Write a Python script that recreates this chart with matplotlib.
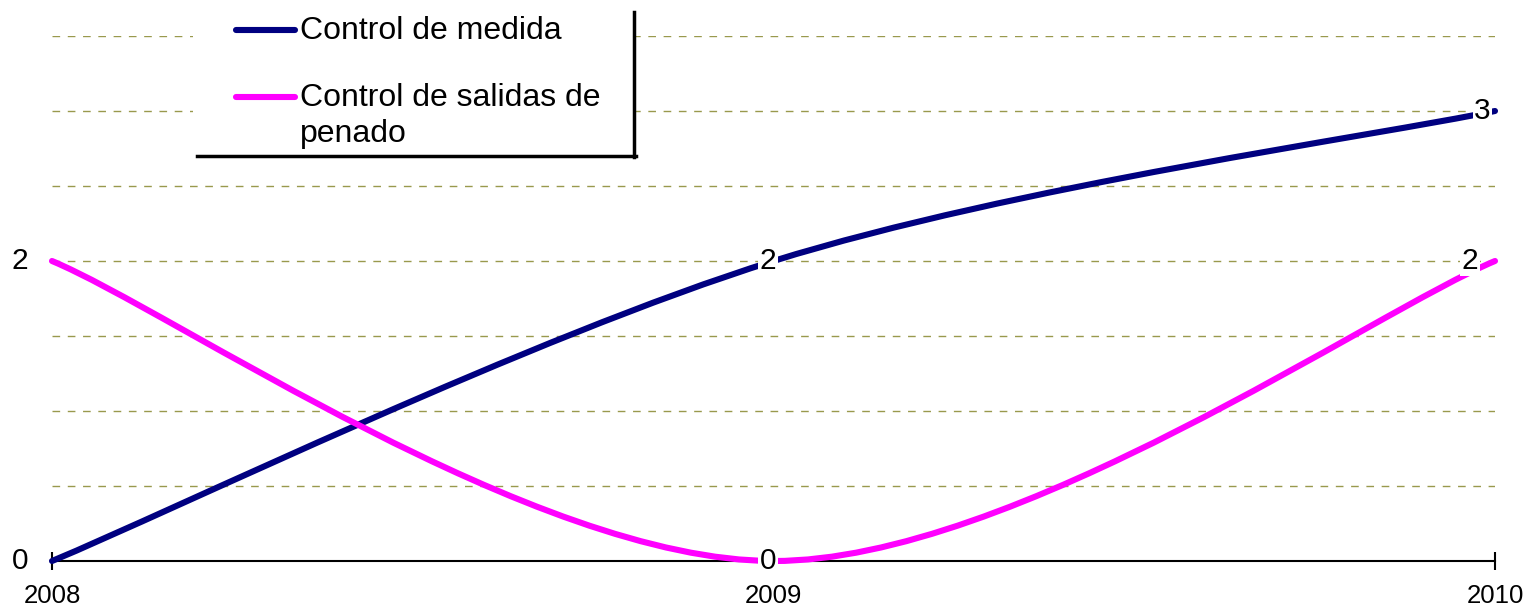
import matplotlib
matplotlib.use('Agg')
import matplotlib.pyplot as plt
from matplotlib.path import Path
from matplotlib.patches import PathPatch, Rectangle
from matplotlib.lines import Line2D

plt.rcParams['font.family'] = ['Liberation Sans', 'DejaVu Sans']

years = [2008, 2009, 2010]
medida = [0, 2, 3]
salidas = [2, 0, 2]
series_names = ['Control de medida', 'Control de salidas de\npenado']
colors = ['#000080', '#ff00ff']

W, H = 1525, 610


def smooth_path(x, y):
    # bezier smoothing like the spreadsheet's "smoothed line"
    verts = [(x[0], y[0])]
    codes = [Path.MOVETO]
    n = len(x)
    for i in range(n - 1):
        xp, yp = (x[i - 1], y[i - 1]) if i > 0 else (x[i], y[i])
        xn, yn = (x[i + 2], y[i + 2]) if i + 2 < n else (x[i + 1], y[i + 1])
        c1 = (x[i] + (x[i + 1] - xp) / 6, y[i] + (y[i + 1] - yp) / 6)
        c2 = (x[i + 1] - (xn - x[i]) / 6, y[i + 1] - (yn - y[i]) / 6)
        verts += [c1, c2, (x[i + 1], y[i + 1])]
        codes += [Path.CURVE4] * 3
    return Path(verts, codes)


fig = plt.figure(figsize=(W / 100, H / 100), dpi=100)
ax = fig.add_axes([52 / W, 1 - 561 / H, (1495 - 52) / W, (561 - 36) / H])
ax.set_xlim(2008, 2010)
ax.set_ylim(0, 3.5)

ax.set_yticks([0.5, 1, 1.5, 2, 2.5, 3, 3.5])
ax.yaxis.grid(True, color='#99994d', linewidth=1, linestyle=(0, (5.5, 5.5)))
ax.tick_params(axis='y', left=False, labelleft=False)
for s in ['left', 'right', 'top']:
    ax.spines[s].set_visible(False)
ax.spines['bottom'].set_linewidth(1.5)
ax.set_xticks(years)
ax.set_xticklabels([str(y) for y in years])
ax.tick_params(axis='x', direction='inout', length=13, width=1.5, pad=10, labelsize=18.5)

for vals, c in zip([medida, salidas], colors):
    p = PathPatch(smooth_path(years, vals), facecolor='none', edgecolor=c,
                  linewidth=4.4, capstyle='round', clip_on=False, zorder=3)
    ax.add_patch(p)

# data labels
offsets = [(-23, 0), (-4, 0), (-9, 0)]
for vals in [medida, salidas]:
    for i, (x, v) in enumerate(zip(years, vals)):
        dx, dy = offsets[i]
        if i == 2 and vals is salidas:
            dx = -18
        ax.annotate(str(v), (x, v), xytext=(dx, dy), textcoords='offset points',
                    ha='center', va='center', fontsize=21.5, zorder=5,
                    annotation_clip=False,
                    bbox=dict(boxstyle='square,pad=0.05', fc='white', ec='none'))

# legend box
fig.patches.append(Rectangle((193 / W, 1 - 157 / H), (636 - 193) / W, 157 / H,
                             transform=fig.transFigure, fc='white', ec='none', zorder=6))
fig.add_artist(Line2D([634 / W, 634 / W], [1 - 12 / H, 1 - 157 / H], color='black', lw=2.5, zorder=7))
fig.add_artist(Line2D([197 / W, 636 / W], [1 - 156 / H, 1 - 156 / H], color='black', lw=2.5, zorder=7))
leg_y = [30, 97]
for name, c, ly in zip(series_names, colors, leg_y):
    fig.add_artist(Line2D([236 / W, 295 / W], [1 - ly / H, 1 - ly / H], color=c, lw=4.4,
                          solid_capstyle='round', zorder=7))
    fig.text(300 / W, 1 - (ly - 14) / H, name, fontsize=23, va='top', ha='left',
             linespacing=1.25, zorder=8)

fig.savefig('out.png', dpi=100)
